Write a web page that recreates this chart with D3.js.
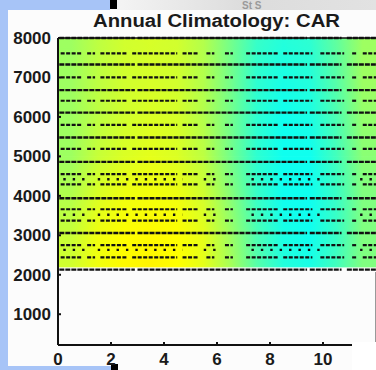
<!DOCTYPE html>
<html><head><meta charset="utf-8">
<script src="https://cdn.jsdelivr.net/npm/d3@7"></script>
<style>html,body{margin:0;padding:0;background:#fff;}svg{display:block;}</style>
</head><body>
<script>
// ---- data ----
const title = "Annual Climatology: CAR";
const xTicks = [0, 2, 4, 6, 8, 10];
const yTicks = [1000, 2000, 3000, 4000, 5000, 6000, 7000, 8000];
const monthCenters = [0.5,1.5,2.5,3.5,4.5,5.5,6.5,7.5,8.5,9.5,10.5,11.5];
const fieldLevels = [2200, 3000, 4000, 5000, 6000, 7000, 8000];
// jet-colormap fractions per level (rows) and month (columns)
const fieldValues = [
  [0.58,0.61,0.63,0.635,0.625,0.60,0.54,0.46,0.41,0.40,0.44,0.50],
  [0.57,0.61,0.625,0.63,0.625,0.60,0.53,0.45,0.40,0.39,0.43,0.50],
  [0.55,0.59,0.61,0.615,0.61,0.58,0.51,0.43,0.39,0.39,0.43,0.50],
  [0.53,0.57,0.59,0.60,0.59,0.56,0.49,0.42,0.39,0.39,0.44,0.51],
  [0.53,0.56,0.58,0.59,0.585,0.55,0.49,0.42,0.39,0.40,0.45,0.52],
  [0.53,0.56,0.58,0.585,0.58,0.55,0.49,0.42,0.40,0.41,0.46,0.53],
  [0.53,0.56,0.58,0.585,0.58,0.55,0.49,0.43,0.41,0.42,0.47,0.53]
];
// observation rows (heights, m)
const denseRows = [8000, 7330, 6680, 6110, 5480, 4860, 3940, 3060, 2130];
const sparseRows = [7610, 7000, 6410, 5800, 5190, 4550, 4290, 3660, 3370, 2750, 2440];
const dotRows = [4420, 3520, 2630];
// runs of observations (month units) on each row type
const sparseRuns = [[0.1,0.9],[1.1,1.4],[1.6,2.6],[2.8,4.5],[4.7,5.3],[5.6,5.9],[6.3,6.6],[7.1,8.3],[8.5,9.6],[9.9,10.8],[11.1,11.3],[11.5,12]];
const denseRuns = [[0.05,2.9],[3.0,9.4],[9.5,10.7],[10.9,12]];
const dotRuns = [[0.2,1.0],[1.5,4.7],[5.5,6.1],[7.3,10.0],[11.4,11.9]];

// ---- drawing ----
const W = 376, H = 370;
const svg = d3.select("body").append("svg").attr("width", W).attr("height", H);
const defs = svg.append("defs");

const x = d3.scaleLinear().domain([0, 12]).range([58, 376]);
const y = d3.scaleLinear().domain([220, 8000]).range([345, 38]);
const jet = d3.scaleLinear()
  .domain([0, 0.125, 0.375, 0.625, 0.875, 1])
  .range(["#00008f", "#0000ff", "#00ffff", "#ffff00", "#ff0000", "#800000"])
  .clamp(true);

// page background pieces
svg.append("rect").attr("width", W).attr("height", H).attr("fill", "#fcfcfc");
const topGrad = defs.append("linearGradient").attr("id", "topg");
topGrad.append("stop").attr("offset", 0).attr("stop-color", "#f4f4f4");
topGrad.append("stop").attr("offset", 0.5).attr("stop-color", "#dcdcdc");
topGrad.append("stop").attr("offset", 1).attr("stop-color", "#e2e2e2");
svg.append("rect").attr("x", 117).attr("y", 0).attr("width", W - 117).attr("height", 10).attr("fill", "url(#topg)");
svg.append("text").attr("x", 242).attr("y", 9).attr("font-family", "Liberation Sans, Arial, sans-serif")
  .attr("font-weight", "bold").attr("font-size", 10).attr("fill", "#9a9a9a").text("St S");
svg.append("rect").attr("x", 0).attr("y", 0).attr("width", 110).attr("height", 10).attr("fill", "#a7c4f7");
svg.append("rect").attr("x", 110).attr("y", 0).attr("width", 7).attr("height", 9).attr("fill", "#000");
svg.append("rect").attr("x", 0).attr("y", 0).attr("width", 8).attr("height", H).attr("fill", "#a7c4f7");
svg.append("rect").attr("x", 0).attr("y", 366).attr("width", 111).attr("height", 4).attr("fill", "#a7c4f7");
svg.append("rect").attr("x", 111).attr("y", 364).attr("width", 7).attr("height", 6).attr("fill", "#000");

// title
svg.append("text").attr("x", 93).attr("y", 27)
  .attr("font-family", "Liberation Sans, Arial, sans-serif").attr("font-weight", "bold")
  .attr("font-size", 18).attr("fill", "#1a1a1a")
  .attr("textLength", 247).attr("lengthAdjust", "spacingAndGlyphs").text(title);

// heat field: horizontal gradients per level
fieldLevels.forEach((lev, i) => {
  const g = defs.append("linearGradient").attr("id", "lev" + i)
    .attr("gradientUnits", "userSpaceOnUse")
    .attr("x1", x(0)).attr("x2", x(12)).attr("y1", 0).attr("y2", 0);
  monthCenters.forEach((m, j) => {
    g.append("stop").attr("offset", m / 12).attr("stop-color", jet(fieldValues[i][j]));
  });
});
const vg = defs.append("linearGradient").attr("id", "vfade").attr("x1", 0).attr("x2", 0).attr("y1", 1).attr("y2", 0);
vg.append("stop").attr("offset", 0).attr("stop-color", "#fff").attr("stop-opacity", 0);
vg.append("stop").attr("offset", 1).attr("stop-color", "#fff").attr("stop-opacity", 1);
defs.append("mask").attr("id", "vmask").attr("maskContentUnits", "objectBoundingBox")
  .append("rect").attr("width", 1).attr("height", 1).attr("fill", "url(#vfade)");

const field = svg.append("g");
for (let i = 0; i < fieldLevels.length - 1; i++) {
  const y0 = y(fieldLevels[i]), y1 = y(fieldLevels[i + 1]);
  field.append("rect").attr("x", x(0)).attr("y", y1).attr("width", x(12) - x(0)).attr("height", y0 - y1 + 0.5)
    .attr("fill", `url(#lev${i})`);
  field.append("rect").attr("x", x(0)).attr("y", y1).attr("width", x(12) - x(0)).attr("height", y0 - y1 + 0.5)
    .attr("fill", `url(#lev${i + 1})`).attr("mask", "url(#vmask)");
}

// observation rows
const obs = svg.append("g").attr("stroke", "#111").attr("fill", "none");
function drawRows(rows, runs, width, dash) {
  rows.forEach(h => {
    runs.forEach(r => {
      obs.append("line").attr("x1", x(r[0])).attr("x2", x(r[1]))
        .attr("y1", y(h)).attr("y2", y(h))
        .attr("stroke-width", width).attr("stroke-dasharray", dash);
    });
  });
}
drawRows(denseRows, denseRuns, 2.4, "5 1");
drawRows(sparseRows, sparseRuns, 2.2, "4 1.5");
drawRows(dotRows, dotRuns, 2.4, "2.4 7");

// axes
const ax = svg.append("g").attr("stroke", "#111");
ax.append("line").attr("x1", x(0)).attr("x2", 352).attr("y1", y(220)).attr("y2", y(220)).attr("stroke-width", 2);
ax.append("line").attr("x1", x(0)).attr("x2", x(0)).attr("y1", y(8000)).attr("y2", y(220)).attr("stroke-width", 2);
ax.append("line").attr("x1", x(0)).attr("x2", x(12)).attr("y1", y(8000)).attr("y2", y(8000)).attr("stroke-width", 1.5);
ax.append("line").attr("x1", 375.5).attr("x2", 375.5).attr("y1", 272).attr("y2", 342).attr("stroke", "#999").attr("stroke-width", 1);
ax.selectAll(".xt").data(xTicks).join("line").attr("x1", d => x(d)).attr("x2", d => x(d))
  .attr("y1", y(220)).attr("y2", y(220) - 3).attr("stroke-width", 2);
ax.selectAll(".yt").data(yTicks).join("line").attr("x1", x(0)).attr("x2", x(0) + 3)
  .attr("y1", d => y(d)).attr("y2", d => y(d)).attr("stroke-width", 2);

const lab = svg.append("g").attr("font-family", "Liberation Sans, Arial, sans-serif")
  .attr("font-weight", "bold").attr("font-size", 17).attr("fill", "#1a1a1a");
lab.selectAll(".yl").data(yTicks).join("text").attr("x", 51).attr("y", d => y(d) + 6)
  .attr("text-anchor", "end").text(d => d);
lab.selectAll(".xl").data(xTicks).join("text").attr("x", d => x(d)).attr("y", 365)
  .attr("text-anchor", "middle").text(d => d);

// white block covering lower right corner
svg.append("rect").attr("x", 352).attr("y", 342).attr("width", 24).attr("height", 28).attr("fill", "#fff");
</script>
</body></html>
